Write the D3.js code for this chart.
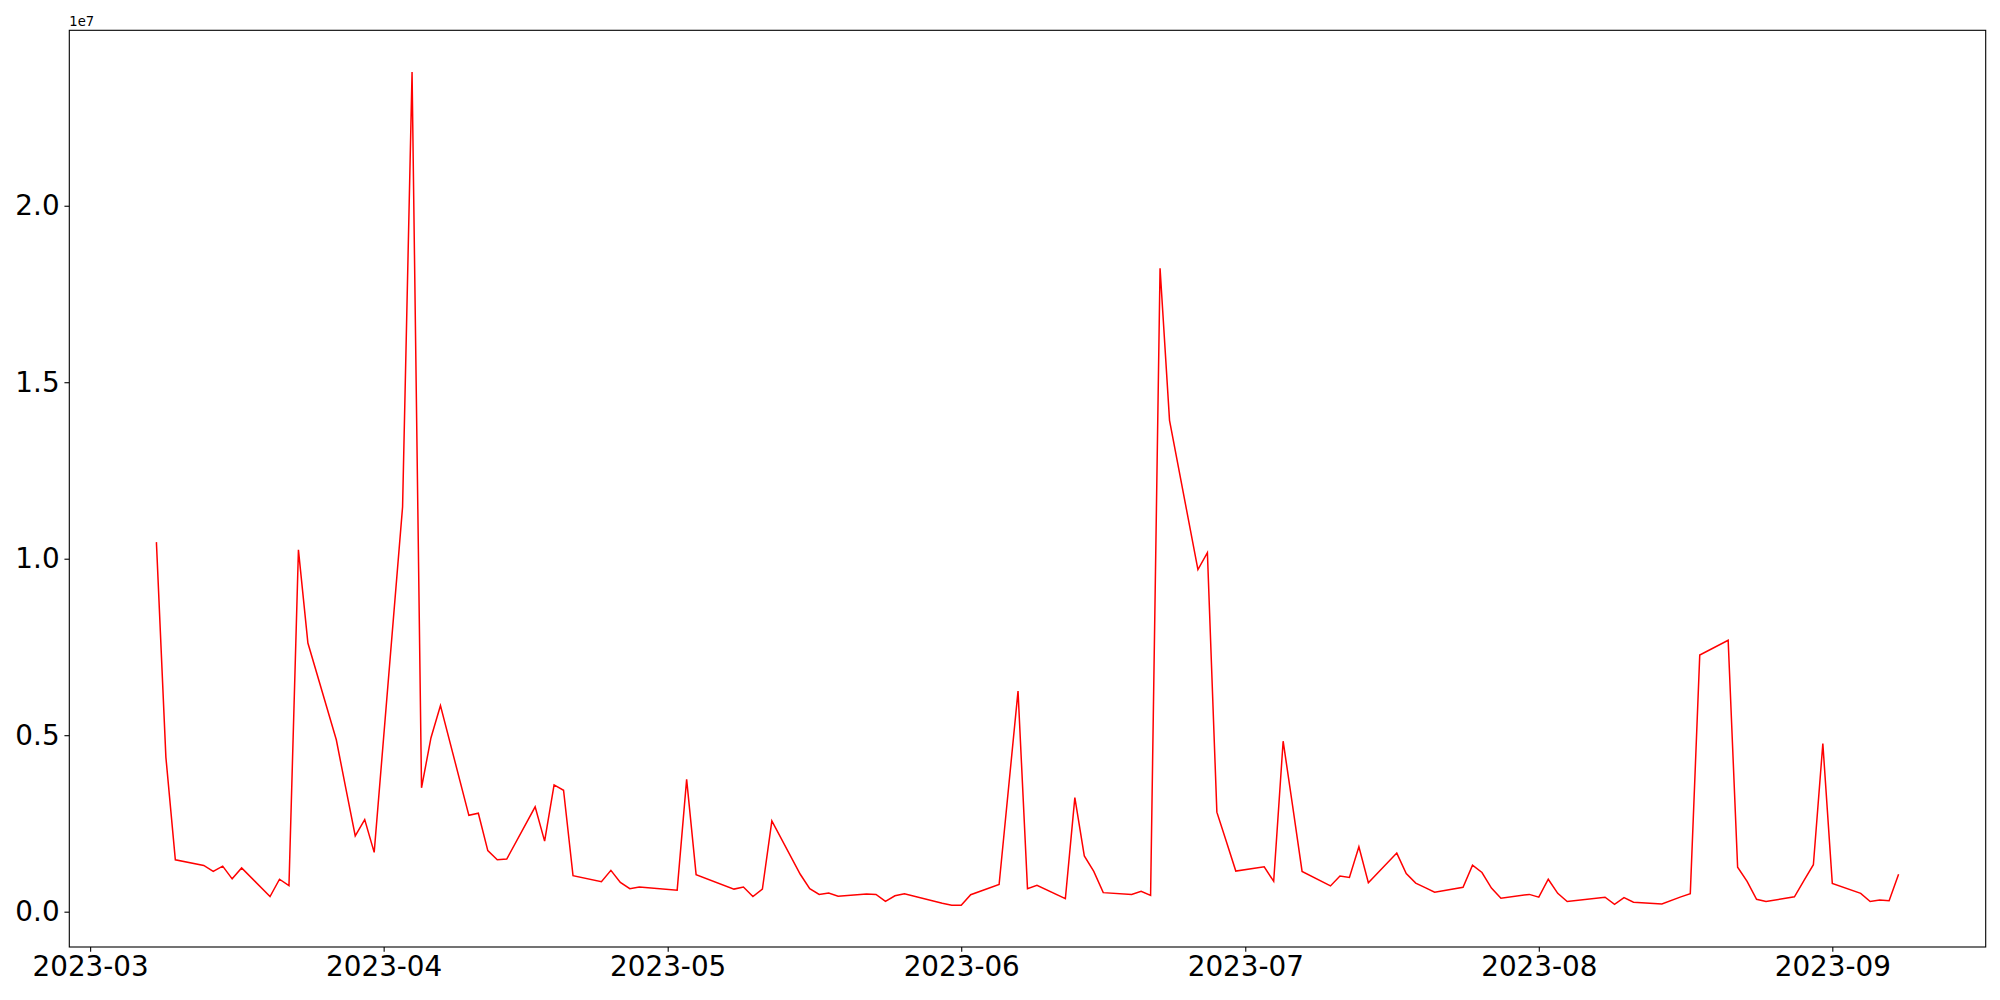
<!DOCTYPE html>
<html>
<head>
<meta charset="utf-8">
<script src="https://cdn.jsdelivr.net/npm/d3@7"></script>
<style>
  body { margin: 0; background: #fff; }
  svg { display: block; font-family: 'DejaVu Sans', sans-serif; }
</style>
</head>
<body>
<svg id="chart"></svg>
<script>
// trading days (weekdays, market holidays skipped)
const dates = [
  '2023-03-08', '2023-03-09', '2023-03-10', '2023-03-13', '2023-03-14', '2023-03-15',
  '2023-03-16', '2023-03-17', '2023-03-20', '2023-03-21', '2023-03-22', '2023-03-23',
  '2023-03-24', '2023-03-27', '2023-03-28', '2023-03-29', '2023-03-30', '2023-03-31',
  '2023-04-03', '2023-04-04', '2023-04-05', '2023-04-06', '2023-04-07', '2023-04-10',
  '2023-04-11', '2023-04-12', '2023-04-13', '2023-04-14', '2023-04-17', '2023-04-18',
  '2023-04-19', '2023-04-20', '2023-04-21', '2023-04-24', '2023-04-25', '2023-04-26',
  '2023-04-27', '2023-04-28', '2023-05-02', '2023-05-03', '2023-05-04', '2023-05-08',
  '2023-05-09', '2023-05-10', '2023-05-11', '2023-05-12', '2023-05-15', '2023-05-16',
  '2023-05-17', '2023-05-18', '2023-05-19', '2023-05-22', '2023-05-23', '2023-05-24',
  '2023-05-25', '2023-05-26', '2023-05-30', '2023-05-31', '2023-06-01', '2023-06-02',
  '2023-06-05', '2023-06-07', '2023-06-08', '2023-06-09', '2023-06-12', '2023-06-13',
  '2023-06-14', '2023-06-15', '2023-06-16', '2023-06-19', '2023-06-20', '2023-06-21',
  '2023-06-22', '2023-06-23', '2023-06-26', '2023-06-27', '2023-06-28', '2023-06-29',
  '2023-06-30', '2023-07-03', '2023-07-04', '2023-07-05', '2023-07-06', '2023-07-07',
  '2023-07-10', '2023-07-11', '2023-07-12', '2023-07-13', '2023-07-14', '2023-07-17',
  '2023-07-18', '2023-07-19', '2023-07-20', '2023-07-21', '2023-07-24', '2023-07-25',
  '2023-07-26', '2023-07-27', '2023-07-28', '2023-07-31', '2023-08-01', '2023-08-02',
  '2023-08-03', '2023-08-04', '2023-08-08', '2023-08-09', '2023-08-10', '2023-08-11',
  '2023-08-14', '2023-08-16', '2023-08-17', '2023-08-18', '2023-08-21',
  '2023-08-22', '2023-08-23', '2023-08-24', '2023-08-25', '2023-08-28', '2023-08-29',
  '2023-08-30', '2023-08-31', '2023-09-01', '2023-09-04', '2023-09-05', '2023-09-06',
  '2023-09-07', '2023-09-08',
]

// volume, in millions
const volume = [
  10.47, 4.38, 1.47, 1.31, 1.14, 1.29,
  0.93, 1.24, 0.43, 0.92, 0.74, 10.25,
  7.61, 4.87, 3.5, 2.15, 2.61, 1.68,
  11.47, 23.79, 3.51, 4.93, 5.84, 2.73,
  2.79, 1.73, 1.47, 1.49, 2.97, 2.0,
  3.59, 3.44, 1.02, 0.85, 1.17, 0.83,
  0.65, 0.7, 0.61, 3.75, 1.05, 0.64,
  0.7, 0.43, 0.64, 2.57, 1.06, 0.65,
  0.49, 0.53, 0.44, 0.5, 0.49, 0.29,
  0.45, 0.51, 0.24, 0.18, 0.18, 0.48,
  0.77, 6.25, 0.65, 0.75, 0.37, 3.23,
  1.58, 1.14, 0.54, 0.49, 0.58, 0.46,
  18.23, 13.92, 9.69, 10.17, 2.82, 1.99,
  1.15, 1.27, 0.86, 4.83, 3.0, 1.14,
  0.73, 1.01, 0.97, 1.84, 0.82, 1.66,
  1.08, 0.81, 0.68, 0.55, 0.69, 1.32,
  1.11, 0.67, 0.38, 0.49, 0.41, 0.92,
  0.52, 0.29, 0.41, 0.21, 0.4, 0.27,
  0.22, 0.42, 0.51, 7.27, 7.69,
  1.26, 0.86, 0.35, 0.29, 0.42, 0.88,
  1.33, 4.76, 0.8, 0.52, 0.29, 0.33,
  0.31, 1.06,
]

const yTicks = [0, 0.5, 1.0, 1.5, 2.0] // in units of 1e7
const yOffsetText = '1e7'

const width = 2000
const height = 1000
const margin = { top: 30.3, right: 14.3, bottom: 53, left: 69.3 }
const _w = width - margin.left - margin.right
const _h = height - margin.top - margin.bottom
const tickLen = 4.86
const fontSize = 27.8

const parse = d3.timeParse('%Y-%m-%d')
const data = dates.map((d, i) => ({ date: parse(d), value: volume[i] * 1e6 }))

// matplotlib-style 5% padding on both axes
function padded(ext) {
  const pad = (ext[1] - ext[0]) * 0.05
  return [ext[0] - pad, ext[1] + pad]
}
const xExt = d3.extent(data, (d) => +d.date)
const yExt = d3.extent(data, (d) => d.value)

const x = d3.scaleTime().domain(padded(xExt).map((t) => new Date(t))).range([0, _w])
const y = d3.scaleLinear().domain(padded(yExt)).range([_h, 0])

const svg = d3.select('#chart').attr('width', width).attr('height', height)
const g = svg.append('g').attr('transform', `translate(${margin.left},${margin.top})`)

const line = d3.line()
  .x((d) => x(d.date))
  .y((d) => y(d.value))

g.append('path')
  .datum(data)
  .attr('fill', 'none')
  .attr('stroke', '#ff0000')
  .attr('stroke-width', 1.5)
  .attr('stroke-linejoin', 'miter')
  .attr('d', line)

const xAxis = d3.axisBottom(x)
  .ticks(d3.timeMonth.every(1))
  .tickFormat(d3.timeFormat('%Y-%m'))
  .tickSizeInner(tickLen)
  .tickSizeOuter(0)
  .tickPadding(tickLen)

const yAxis = d3.axisLeft(y)
  .tickValues(yTicks.map((v) => v * 1e7))
  .tickFormat((d) => (d / 1e7).toFixed(1))
  .tickSizeInner(tickLen)
  .tickSizeOuter(0)
  .tickPadding(tickLen)

const gx = g.append('g').attr('transform', `translate(0,${_h})`).call(xAxis)
const gy = g.append('g').call(yAxis)

for (const ax of [gx, gy]) {
  ax.select('.domain').remove()
  ax.selectAll('.tick line').attr('stroke', '#000').attr('stroke-width', 1.1)
  ax.selectAll('.tick text')
    .attr('fill', '#000')
    .attr('font-size', fontSize)
    .attr('font-family', "'DejaVu Sans', sans-serif")
}

// spines
g.append('rect')
  .attr('width', _w)
  .attr('height', _h)
  .attr('fill', 'none')
  .attr('stroke', '#000')
  .attr('stroke-width', 1.1)

g.append('text')
  .attr('x', 0)
  .attr('y', -4.5)
  .attr('font-size', 13.2)
  .attr('fill', '#000')
  .text(yOffsetText)
</script>
</body>
</html>
